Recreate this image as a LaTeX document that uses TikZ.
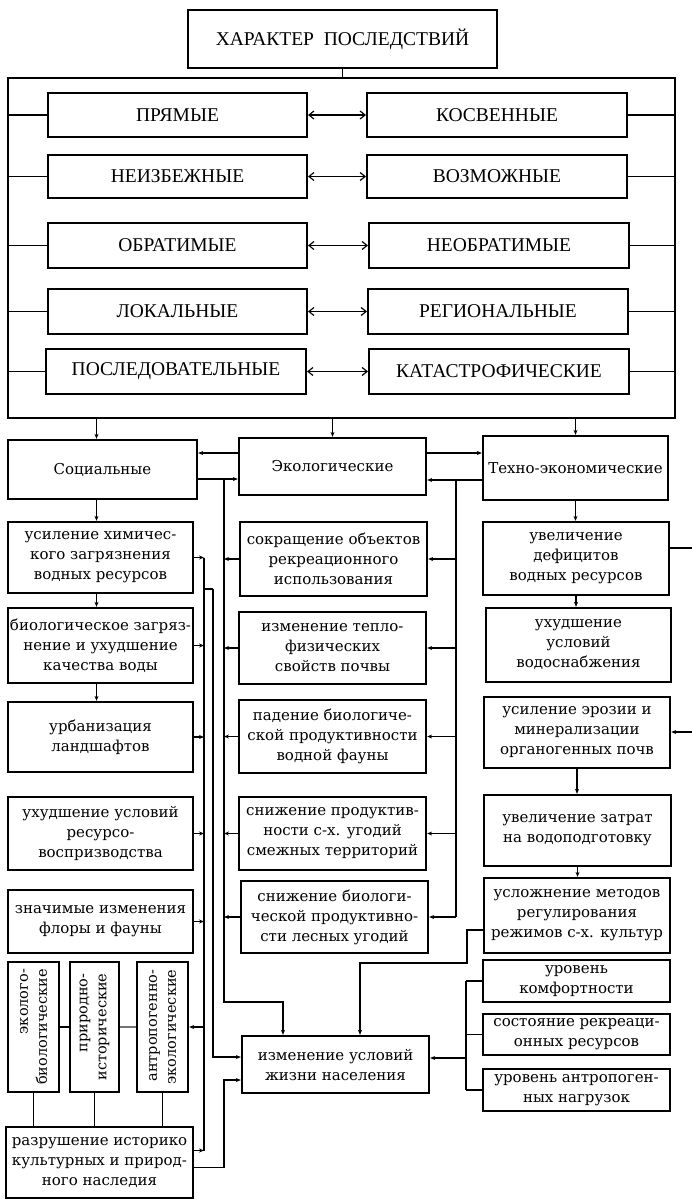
\documentclass[tikz,border=0pt]{standalone}
\usepackage{fontspec}
\setmainfont{DejaVu Serif}
\newfontfamily\capsfont{Liberation Serif}
\usetikzlibrary{arrows.meta}

\begin{document}
\begin{tikzpicture}[x=1pt,y=-1pt,
  cornersat/.style n args={4}{minimum width={(#3-#1)*1pt}, minimum height={(#4-#2)*1pt},
                              at={({(#1+#3)/2},{(#2+#4)/2})}},
  body/.style={font=\fontsize{15}{20}\selectfont},
  tbox/.style={draw, line width=2.3pt, inner sep=0pt, align=center, body},
  capbox/.style={draw, line width=2pt, inner sep=0pt, align=center,
                 font=\capsfont\fontsize{19.5}{22}\selectfont},
  link/.style={line width=1.2pt},
  arr/.style={link, -{Stealth[length=5pt,width=4pt]}},
  dbl/.style={link, {Straight Barb[length=5pt,width=8pt]}-{Straight Barb[length=5pt,width=8pt]}},
  vtext/.style={rotate=90, align=right, inner sep=0pt, font=\fontsize{14.5}{19}\selectfont},
]
\useasboundingbox (0,0) rectangle (692,1201);

% ---------- heading and the frame of paired kinds ----------
\node[capbox, cornersat={188}{10}{497}{68}] (head) {ХАРАКТЕР\ \ ПОСЛЕДСТВИЙ};
\node[draw, line width=1.5pt, inner sep=0pt, cornersat={8}{78}{675}{418}] (frame) {};
\draw[link] (head.south) -- (head.south |- frame.north);

\node[capbox, cornersat={48}{93}{307}{137}]  (p1) {ПРЯМЫЕ};
\node[capbox, cornersat={367}{93}{627}{137}] (q1) {КОСВЕННЫЕ};
\node[capbox, cornersat={48}{155}{307}{198}]  (p2) {НЕИЗБЕЖНЫЕ};
\node[capbox, cornersat={367}{155}{627}{198}] (q2) {ВОЗМОЖНЫЕ};
\node[capbox, cornersat={48}{223}{307}{268}]  (p3) {ОБРАТИМЫЕ};
\node[capbox, cornersat={369}{223}{629}{268}] (q3) {НЕОБРАТИМЫЕ};
\node[capbox, cornersat={48}{289}{307}{334}]  (p4) {ЛОКАЛЬНЫЕ};
\node[capbox, cornersat={368}{289}{628}{334}] (q4) {РЕГИОНАЛЬНЫЕ};
\node[capbox, cornersat={46}{349}{306}{394}]  (p5) {ПОСЛЕДОВАТЕЛЬНЫЕ};
\node[capbox, cornersat={369}{349}{629}{394}] (q5) {КАТАСТРОФИЧЕСКИЕ};

\foreach \i in {1,...,5}{
  \draw[dbl] (p\i.east) -- (q\i.west);
  \draw[link] (p\i.west) -- (p\i.west -| frame.west);
  \draw[link] (q\i.east) -- (q\i.east -| frame.east);
}

% ---------- three groups ----------
\node[tbox, cornersat={8}{440}{197}{499}]   (soc)  {Социальные};
\node[tbox, cornersat={239}{438}{426}{495}] (eco)  {Экологические};
\node[tbox, cornersat={483}{436}{668}{500}] (tech) {Техно-экономические};

\draw[arr] ([xshift=-6pt]soc.north |- frame.south) -- ([xshift=-6pt]soc.north);
\draw[arr] (eco.north |- frame.south) -- (eco.north);
\draw[arr] (tech.north |- frame.south) -- (tech.north);

% social column
\node[tbox, cornersat={8}{522}{193}{593}] (s1) {усиление химичес-\\кого загрязнения\\водных ресурсов};
\node[tbox, cornersat={8}{608}{193}{683}] (s2) {биологическое загряз-\\нение и ухудшение\\качества воды};
\node[tbox, cornersat={8}{702}{193}{772}] (s3) {урбанизация\\ландшафтов};
\node[tbox, cornersat={8}{797}{193}{870}] (s4) {ухудшение условий\\ресурсо-\\воспризводства};
\node[tbox, cornersat={8}{890}{193}{953}] (s5) {значимые изменения\\флоры и фауны};
\node[tbox, cornersat={8}{962}{59}{1092}]    (v1) {};
\node[tbox, cornersat={70}{962}{119}{1092}]  (v2) {};
\node[tbox, cornersat={137}{962}{188}{1092}] (v3) {};
\node[vtext] (v1t) at (v1) {эколого-\\биологические};
\node[vtext] (v2t) at (v2) {природно-\\исторические};
\node[vtext] (v3t) at (v3) {антропогенно-\\экологические};
\node[tbox, cornersat={6}{1127}{193}{1198}] (razr) {разрушение историко\\культурных и природ-\\ного наследия};

% ecological column
\node[tbox, cornersat={240}{522}{427}{596}] (e1) {сокращение объектов\\рекреационного\\использования};
\node[tbox, cornersat={239}{612}{426}{684}] (e2) {изменение тепло-\\физических\\свойств почвы};
\node[tbox, cornersat={239}{700}{426}{773}] (e3) {падение биологиче-\\ской продуктивности\\водной фауны};
\node[tbox, cornersat={239}{797}{426}{870}] (e4) {снижение продуктив-\\ности с-х. угодий\\смежных территорий};
\node[tbox, cornersat={241}{881}{428}{953}] (e5) {снижение биологи-\\ческой продуктивно-\\сти лесных угодий};
\node[tbox, cornersat={242}{1036}{429}{1093}] (izm) {изменение условий\\жизни населения};

% techno-economic column
\node[tbox, cornersat={483}{522}{669}{595}]  (t1) {увеличение\\дефицитов\\водных ресурсов};
\node[tbox, cornersat={486}{608}{671}{682}]  (t2) {ухудшение\\условий\\водоснабжения};
\node[tbox, cornersat={484}{697}{670}{768}]  (t3) {усиление эрозии и\\минерализации\\органогенных почв};
\node[tbox, cornersat={484}{795}{671}{866}]  (t4) {увеличение затрат\\на водоподготовку};
\node[tbox, cornersat={484}{878}{670}{953}]  (t5) {усложнение методов\\регулирования\\режимов с-х. культур};
\node[tbox, cornersat={483}{960}{670}{1002}]  (r1) {уровень\\комфортности};
\node[tbox, cornersat={483}{1014}{670}{1055}] (r2) {состояние рекреаци-\\онных ресурсов};
\node[tbox, cornersat={483}{1069}{670}{1111}] (r3) {уровень антропоген-\\ных нагрузок};

% junction points of the collector lines
\coordinate (colS)  at (204,557);
\coordinate (colS2) at (213,589);
\coordinate (colE)  at (224,479);
\coordinate (colR)  at (456,480);
\coordinate (colT)  at (467,930);
\coordinate (bendI) at (360,963);
\coordinate (bendE) at (283,1002);
\coordinate (colI)  at (466,1058);
\coordinate (edge1) at (692,548);
\coordinate (edge2) at (692,732);

% links between the three groups
\draw[arr] ([yshift=13.5pt]eco.west) -- ([yshift=13.5pt]eco.west -| soc.east);
\draw[arr] (soc.east |- colE) -- (eco.west |- colE);
\draw[arr] ([yshift=13.5pt]eco.east) -- ([yshift=13.5pt]eco.east -| tech.west);
\draw[arr] (tech.west |- colR) -- (eco.east |- colR);

% social chain
\draw[arr] ([xshift=-6pt]soc.south) -- ([xshift=-6pt]soc.south |- s1.north);
\draw[arr] ([xshift=-4pt]s1.south) -- ([xshift=-4pt]s1.south |- s2.north);
\draw[arr] ([xshift=-4pt]s2.south) -- ([xshift=-4pt]s2.south |- s3.north);

\draw[link] (s1.east -| colS) -- ([yshift=12pt]razr.east -| colS);
\foreach \b in {s1,s2,s3,s4,s5} \draw[arr] (\b.east) -- (\b.east -| colS);
\draw[arr] ([yshift=12pt]razr.east) -- ([yshift=12pt]razr.east -| colS);
\draw[arr] (v3.east -| colS) -- (v3.east);
\draw[link] (colS2 -| colS) -- (colS2);
\draw[arr] (colS2) -- ([yshift=7.5pt]izm.west -| colS2) -- ([yshift=7.5pt]izm.west);
\draw[arr] ([yshift=-5pt]razr.east) -- ([yshift=-5pt]razr.east -| colE)
  -- ([yshift=-15.5pt]izm.west -| colE) -- ([yshift=-15.5pt]izm.west);

\draw[link] (v1.east) -- (v2.west);
\draw[link, black!55] (v2.east) -- (v3.west);
\foreach \b in {v1,v2,v3} \draw[link] (\b.south) -- (\b.south |- razr.north);

% ecological collectors
\draw[arr] (colE) -- (colE |- bendE) -- (bendE) -- (bendE |- izm.north);
\foreach \b in {e1,e2,e3,e4,e5} \draw[arr] (\b.west) -- (\b.west -| colE);
\draw[link] (colR) -- (colR |- e5.east);
\foreach \b in {e1,e2,e3,e4,e5} \draw[arr] (\b.east -| colR) -- (\b.east);

% techno-economic chain
\draw[arr] (tech.south) -- (tech.south |- t1.north);
\draw[arr] (t1.south) -- (t1.south |- t2.north);
\draw[arr] (t3.south) -- (t3.south |- t4.north);
\draw[arr] (t4.south) -- (t4.south |- t5.north);
\draw[link] (edge1) -- (edge1 -| t1.east);
\draw[arr] (edge2) -- (edge2 -| t3.east);
\draw[arr] (t5.west |- colT) -- (colT) -- (colT |- bendI) -- (bendI) -- (bendI |- izm.north);

% living conditions and its indicators
\draw[arr] (colI) -- (colI -| izm.east);
\draw[link] (colI |- r1.west) -- (colI |- r3.west);
\foreach \b in {r1,r2,r3} \draw[link] (colI |- \b.west) -- (\b.west);
\end{tikzpicture}
\end{document}
